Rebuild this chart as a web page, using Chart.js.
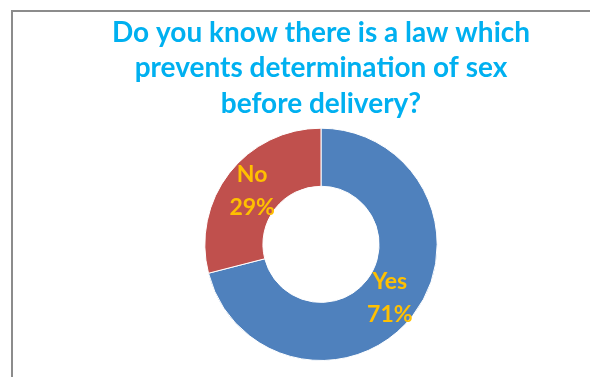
<!DOCTYPE html>
<html>
<head>
<meta charset="utf-8">
<script src="https://cdn.jsdelivr.net/npm/chart.js@4"></script>
<style>
  html, body { margin: 0; padding: 0; background: #fff; }
  #marco {
    position: absolute; left: 11px; top: 10px; width: 600px; height: 400px;
    border-left: 2px solid #8c8c8c; border-top: 2px solid #8c8c8c;
  }
  #lienzo { position: absolute; left: 0; top: 0; }
</style>
</head>
<body>
<div id="marco"></div>
<canvas id="lienzo" width="590" height="377"></canvas>
<script>
// Datos de la encuesta
const categorias = ['Yes', 'No'];
const porcentajes = [71, 29];
const tituloLineas = [
    'Do you know there is a law which',
    'prevents determination of sex',
    'before delivery?',
];

const coloresSector = ['#4F81BD', '#C0504D'];

// Etiquetas dentro de cada sector: categoría y porcentaje
const etiquetasSector = {
    id: 'etiquetasSector',
    afterDatasetsDraw(chart) {
        const ctx = chart.ctx;
        const meta = chart.getDatasetMeta(0);
        ctx.save();
        ctx.fillStyle = '#FFC000';
        ctx.font = 'bold 23px Lato';
        ctx.textAlign = 'center';
        ctx.textBaseline = 'middle';
        meta.data.forEach((arco, i) => {
            const p = arco.tooltipPosition();
            ctx.fillText(categorias[i], p.x, p.y - 16);
            ctx.fillText(porcentajes[i] + '%', p.x, p.y + 17);
        });
        ctx.restore();
    },
};

new Chart(document.getElementById('lienzo').getContext('2d'), {
    type: 'doughnut',
    data: {
        labels: categorias,
        datasets: [
            {
                data: porcentajes,
                backgroundColor: coloresSector,
                borderColor: '#ffffff',
                borderWidth: 1,
            },
        ],
    },
    options: {
        responsive: false,
        animation: false,
        cutout: '50%',
        layout: { padding: { left: 52, right: 0, top: 0, bottom: 16 } },
        plugins: {
            legend: { display: false },
            tooltip: { enabled: false },
            title: {
                display: true,
                text: tituloLineas,
                color: '#00B0F0',
                font: { family: 'Lato', size: 28, weight: 'bold', lineHeight: 1.27 },
                padding: { top: 15, bottom: 6 },
            },
        },
    },
    plugins: [etiquetasSector],
});
</script>
</body>
</html>
